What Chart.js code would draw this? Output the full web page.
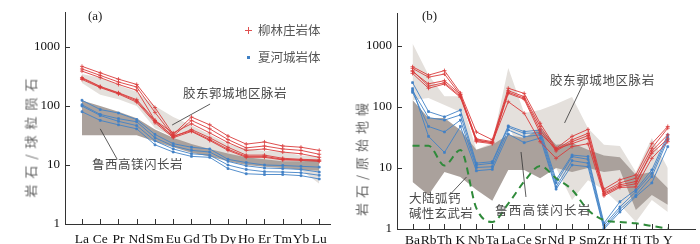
<!DOCTYPE html>
<html>
<head>
<meta charset="utf-8">
<script src="https://cdn.jsdelivr.net/npm/chart.js@4"></script>
<style>
  body { margin: 0; background: #fff; }
  #wrap { position: relative; width: 700px; height: 244px; overflow: hidden; }
  .pane { position: absolute; top: 0; width: 350px; height: 244px; }
  .t { position: absolute; font-family: "Noto Sans CJK SC", sans-serif; font-size: 12.5px; line-height: 1; color: #4a4a4a; white-space: nowrap; }
  .lab { position: absolute; font-family: "Liberation Serif", serif; font-size: 13px; line-height: 1; color: #222; }
  .ytitle { position: absolute; font-family: "Noto Sans CJK SC", sans-serif; font-size: 13px; line-height: 1; color: #666; white-space: nowrap; transform: translate(-50%, -50%) rotate(-90deg); }
</style>
</head>
<body>
<div id="wrap">
  <div class="pane" style="left:0"><canvas id="chart-a" width="350" height="244"></canvas></div>
  <div class="pane" style="left:350px"><canvas id="chart-b" width="350" height="244"></canvas></div>

  <div class="lab" style="left:88px;top:9px">(a)</div>
  <div class="lab" style="left:422px;top:9px">(b)</div>

  <div class="ytitle" style="left:30px;top:135px;letter-spacing:6px">岩石/球粒陨石</div>
  <div class="ytitle" style="left:361px;top:157px;letter-spacing:5px">岩石/原始地幔</div>

  <div style="position:absolute;left:245px;top:29.5px;width:7px;height:1px;background:#e05050"></div>
  <div style="position:absolute;left:248px;top:26.5px;width:1px;height:7px;background:#e05050"></div>
  <div style="position:absolute;left:246.5px;top:55.5px;width:3px;height:3px;background:#3d7fc4"></div>
  <div class="t" style="left:258px;top:24px;color:#555">柳林庄岩体</div>
  <div class="t" style="left:258px;top:51px;color:#555">夏河城岩体</div>

  <div class="t" style="left:183px;top:87px;letter-spacing:0.5px">胶东郭城地区脉岩</div>
  <div class="t" style="left:92px;top:158px;letter-spacing:0.5px">鲁西高镁闪长岩</div>

  <div class="t" style="left:550px;top:74px;letter-spacing:0.6px">胶东郭城地区脉岩</div>
  <div class="t" style="left:495px;top:204px;letter-spacing:1.3px">鲁西高镁闪长岩</div>
  <div class="t" style="left:409px;top:192px;letter-spacing:0.5px">大陆弧钙</div>
  <div class="t" style="left:409px;top:207px;letter-spacing:0.3px">碱性玄武岩</div>
</div>

<script>
// (a) 稀土元素 球粒陨石标准化
const REE = ['La', 'Ce', 'Pr', 'Nd', 'Sm', 'Eu', 'Gd', 'Tb', 'Dy', 'Ho', 'Er', 'Tm', 'Yb', 'Lu'];

const LLZ_REE = [ // 柳林庄岩体
    [470, 365, 285, 232, 94, 33, 65, 48, 31, 22.6, 24.6, 21, 20, 17.7],
    [425, 330, 255, 210, 78, 31, 57, 41, 27, 19.5, 21, 18.7, 17.7, 15.2],
    [390, 303, 232, 185, 57, 35, 50, 35, 24, 17.7, 18.7, 16.6, 15.5, 13.5],
    [303, 215, 168, 128, 57, 30, 40, 29, 20, 14.7, 14.7, 13, 12.5, 12.2],
    [295, 210, 165, 122, 55, 31, 38, 27, 18.5, 14, 14, 12.5, 12.2, 11.8],
    [282, 205, 160, 116, 52, 29, 37, 26, 17.7, 13.5, 13.5, 12.2, 12, 11.5],
];
const XHC_REE = [ // 夏河城岩体
    [125, 87, 76, 59, 33, 23, 20, 18.7, 12.5, 11, 10, 9.8, 9.5, 9.2],
    [105, 72, 61, 54, 29, 21, 17.7, 16.6, 11.5, 9.7, 8.9, 8.7, 8.4, 7.6],
    [100, 69, 55, 46.5, 25.6, 18.7, 15.5, 14.7, 10, 8.4, 7.7, 7.6, 7.4, 6.7],
    [80, 57, 48, 41, 22, 16.6, 14, 13.5, 8.7, 7.1, 6.9, 6.9, 6.6, 5.8],
];
const JD_REE_TOP = [350, 300, 225, 175, 100, 65, 47, 33, 22.6, 18.7, 17.5, 16.8, 14.5, 14];
const JD_REE_BOT = [245, 155, 130, 100, 42, 30, 20, 15.6, 14, 12, 11.6, 10.8, 8.3, 4.8];
const LX_REE_TOP = [124, 100, 80, 62, 40, 29, 22.6, 18.7, 15.6, 13.5, 12.5, 11.6, 11.6, 12];
const LX_REE_BOT = [32, 32, 32, 32, 25, 20, 16.2, 14, 11.6, 10, 9.3, 8.9, 8.3, 8];
const LEADERS_A = [
    [[4.94, 47.6], [7.02, 108]],
    [[1.0, 41], [1.93, 12.5]],
];

// (b) 微量元素 原始地幔标准化
const TRACE = ['Ba', 'Rb', 'Th', 'K', 'Nb', 'Ta', 'La', 'Ce', 'Sr', 'Nd', 'P', 'Sm', 'Zr', 'Hf', 'Ti', 'Tb', 'Y'];

const LLZ_TR = [
    [457, 333, 395, 170, 39, 29, 203, 167, 54, 21, 33, 43, 4.5, 6.4, 7.7, 25, 48],
    [430, 308, 347, 158, 29, 26, 185, 148, 48, 20, 29, 37, 4.1, 5.7, 6.8, 21, 45],
    [380, 240, 270, 160, 30, 27, 175, 140, 42, 19, 27, 34, 3.7, 5.0, 5.5, 19, 35],
    [395, 220, 250, 150, 27, 25, 167, 134, 37, 20.5, 25, 31, 3.85, 5.3, 6.0, 17.4, 30],
    [355, 203, 238, 144, 28, 26, 122, 79, 27, 14.4, 22.4, 25, 3.5, 4.8, 4.9, 14.4, 27],
];
const XHC_TR = [
    [251, 84, 69, 89, 12, 12.7, 49, 39.5, 42, 6.4, 16.3, 15.4, 1.25, 2.8, 4.4, 9.3, 35],
    [185, 67, 61, 74, 11.2, 12, 46.5, 37, 38, 5.7, 15.4, 13.9, 1.15, 2.3, 4.1, 8.2, 32],
    [174, 48, 39, 61, 10.2, 10.5, 42, 32.6, 35, 4.9, 13.2, 12, 1.05, 2.1, 3.6, 7.2, 29],
    [200, 33, 18, 48, 9.0, 9.5, 36, 26, 31, 4.5, 11.2, 10.5, 1.0, 1.9, 3.4, 5.7, 22.4],
];
const JD_TR_TOP = [1100, 335, 150, 150, 20, 26, 435, 80, 89, 112, 146, 45, 24, 23, 8.6, 31, 10];
const JD_TR_BOT = [130, 140, 108, 83, 8.6, 10, 50, 13.5, 8.6, 10, 3, 6.3, 4.4, 2.5, 1.3, 3, 1.9];
const LX_TR_TOP = [130, 66, 66, 42, 20, 24, 35, 31, 45, 24, 25.6, 20, 16, 15, 7.7, 8.6, 4.7];
const LX_TR_BOT = [5.9, 3.6, 8.6, 7.1, 4.4, 2.9, 9.3, 9.3, 6.8, 10, 8.6, 10, 8.6, 9.3, 2.05, 3.6, 2.5];
const ARC_TR = [23.2, 23.2, 11, 19.7, 2.2, 1.3, 2.6, 6.0, 10.8, 6.8, 4.4, 2.05, 1.4, 1.3, 1.24, 1.12, 1.02]; // 大陆弧钙碱性玄武岩
const LEADERS_B = [
    [[9.53, 54.7], [10.72, 247]],
    [[6.8, 18.3], [7.11, 3.35]],
    [[3.38, 7.1], [2.32, 3.6]],
];

const Y_TICKS = [1, 10, 100, 1000];

const RED = '#da3b3b';
const BLUE = '#4282c6';
const LIGHT = '#e4e0dc';
const DARK = '#aaa19c';

function xy(vals) { return vals.map((v, i) => ({ x: i, y: v })); }

function band(top, bot, color, order) {
    return [
        { data: xy(top), fill: '+1', backgroundColor: color, borderColor: 'transparent', borderWidth: 0, pointRadius: 0, order },
        { data: xy(bot), fill: false, borderColor: 'transparent', borderWidth: 0, pointRadius: 0, order },
    ];
}

function series(rows, color, style, r) {
    return rows.map(vals => ({
        data: xy(vals), borderColor: color, backgroundColor: color, borderWidth: 0.9,
        pointStyle: style, pointRadius: r, pointBorderColor: color, pointBorderWidth: 0.8,
        fill: false, order: 2
    }));
}

function leaders(list) {
    return list.map(seg => ({
        data: seg.map(p => ({ x: p[0], y: p[1] })), borderColor: '#333', borderWidth: 0.8,
        pointRadius: 0, fill: false, order: 0
    }));
}

const innerTicks = {
    id: 'innerTicks',
    afterDatasetsDraw(chart) {
        const { ctx, chartArea: a, scales: { x, y } } = chart;
        ctx.save();
        ctx.strokeStyle = '#333';
        ctx.lineWidth = 1;
        ctx.beginPath();
        x.ticks.forEach(t => {
            const px = Math.round(x.getPixelForValue(t.value)) + 0.5;
            ctx.moveTo(px, a.bottom);
            ctx.lineTo(px, a.bottom - 5);
        });
        y.ticks.forEach(t => {
            const py = Math.round(y.getPixelForValue(t.value)) + 0.5;
            ctx.moveTo(a.left, py);
            ctx.lineTo(a.left + 5, py);
        });
        ctx.stroke();
        ctx.restore();
    }
};

function makeChart(id, cats, datasets, o) {
    return new Chart(document.getElementById(id), {
        type: 'line',
        data: { datasets },
        plugins: [innerTicks],
        options: {
            responsive: false,
            animation: false,
            devicePixelRatio: 1,
            layout: { padding: o.pad },
            plugins: { legend: { display: false }, tooltip: { enabled: false } },
            elements: { line: { tension: 0 } },
            scales: {
                x: {
                    type: 'linear', min: o.xmin, max: o.xmax,
                    grid: { display: false, drawTicks: false },
                    border: { color: '#333', width: 1 },
                    afterFit: s => { s.height = o.xh; },
                    afterBuildTicks: s => { s.ticks = cats.map((_, i) => ({ value: i })); },
                    ticks: {
                        autoSkip: false, maxRotation: 0, padding: o.xpad, color: '#111',
                        font: { family: 'Liberation Serif', size: 13.5 },
                        callback: v => cats[v]
                    }
                },
                y: {
                    type: 'logarithmic', min: 1, max: o.ymax,
                    grid: { display: false, drawTicks: false },
                    border: { color: '#333', width: 1 },
                    afterFit: s => { s.width = o.yw; },
                    afterBuildTicks: s => { s.ticks = Y_TICKS.map(v => ({ value: v })); },
                    ticks: {
                        padding: 5, color: '#111',
                        font: { family: 'Liberation Serif', size: 13 },
                        callback: v => String(v)
                    }
                }
            }
        }
    });
}

makeChart('chart-a', REE, [
    ...leaders(LEADERS_A),
    ...series(LLZ_REE, RED, 'cross', 2),
    ...series(XHC_REE, BLUE, 'rect', 1.3),
    ...band(LX_REE_TOP, LX_REE_BOT, DARK, 10),
    ...band(JD_REE_TOP, JD_REE_BOT, LIGHT, 20),
], { pad: { left: 0, right: 20, top: 2, bottom: 0 }, xmin: -0.93, xmax: 13.59, xh: 20, xpad: 7, yw: 65, ymax: 3800 });

makeChart('chart-b', TRACE, [
    ...leaders(LEADERS_B),
    {
        data: xy(ARC_TR), borderColor: '#2f8a3a', borderWidth: 2, borderDash: [7, 5],
        pointRadius: 0, fill: false, cubicInterpolationMode: 'monotone', order: 1
    },
    ...series(LLZ_TR, RED, 'cross', 2),
    ...series(XHC_TR, BLUE, 'rect', 1.3),
    ...band(LX_TR_TOP, LX_TR_BOT, DARK, 10),
    ...band(JD_TR_TOP, JD_TR_BOT, LIGHT, 20),
], { pad: { left: 0, right: 2, top: 13, bottom: 0 }, xmin: -0.975, xmax: 17.72, xh: 15, xpad: 3, yw: 47, ymax: 3475 });
</script>
</body>
</html>
